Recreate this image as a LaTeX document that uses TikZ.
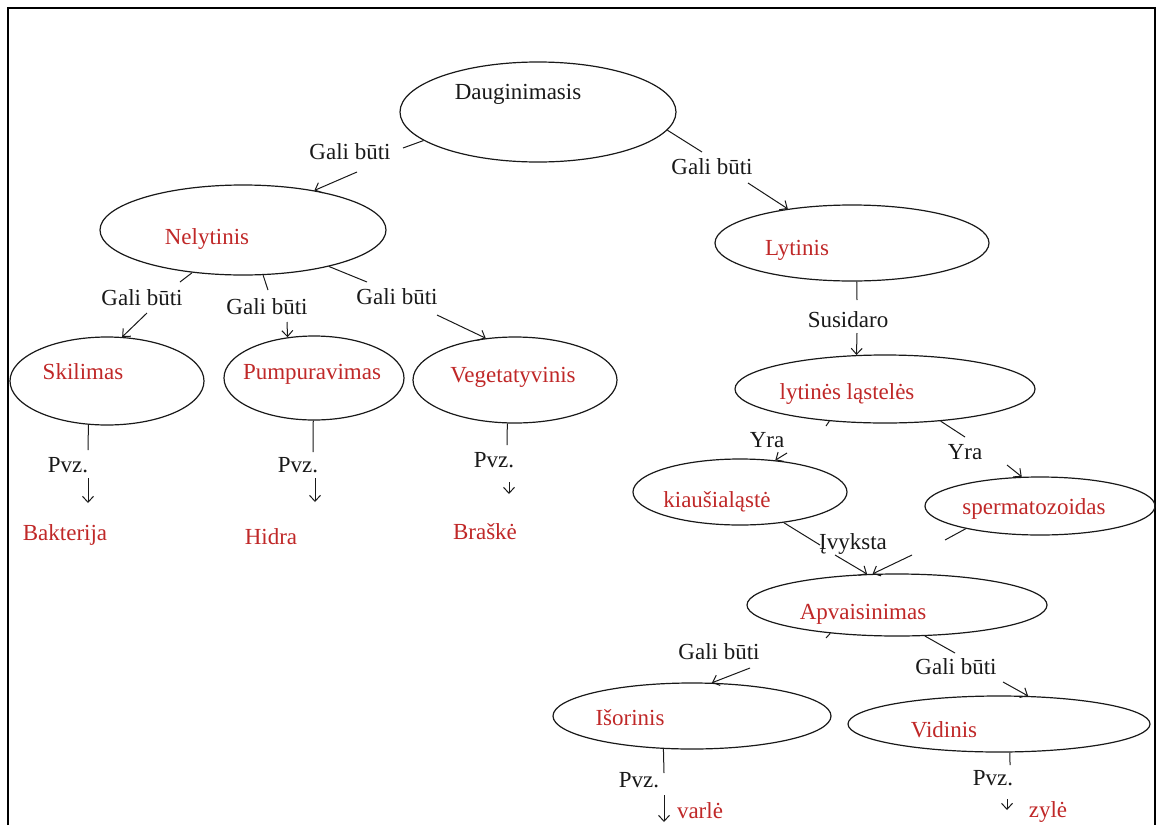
\documentclass[tikz,border=0pt]{standalone}
\usepackage{fontspec}
\setmainfont{Liberation Serif}
\usetikzlibrary{shapes.geometric,arrows.meta}
\definecolor{txtred}{RGB}{192,40,40}
\definecolor{ink}{RGB}{25,25,25}
\begin{document}
\begin{tikzpicture}[x=1pt,y=-1pt,
  oval/.style={draw=ink, ellipse, line width=1.2pt, inner sep=0pt},
  lbl/.style={text=ink, font=\fontsize{23}{27}\selectfont, inner sep=0pt, text height=16pt, text depth=1pt},
  nm/.style={lbl, text=txtred},
  conn/.style={draw=ink, line width=1pt},
  arr/.style={conn, -{Straight Barb[length=6pt,width=11pt]}}
]
\useasboundingbox (0,0) rectangle (1162,825);
\fill[white] (0,0) rectangle (1162,825);
% frame
\draw[line width=1.6pt] (8,825) -- (8,8) -- (1155,8) -- (1155,825);

% ellipses
\node[oval, minimum width=276pt, minimum height=100pt] (daug) at (538,112) {};
\node[oval, minimum width=286pt, minimum height=90pt] (nel) at (243,230) {};
\node[oval, minimum width=274pt, minimum height=76pt] (lyt) at (852,243) {};
\node[oval, minimum width=194pt, minimum height=88pt] (ski) at (107,381) {};
\node[oval, minimum width=180pt, minimum height=84pt] (pump) at (314,378) {};
\node[oval, minimum width=204pt, minimum height=86pt] (veg) at (515,380) {};
\node[oval, minimum width=300pt, minimum height=68pt] (lc) at (885,389) {};
\node[oval, minimum width=214pt, minimum height=66pt] (kiau) at (740,492) {};
\node[oval, minimum width=230pt, minimum height=58pt] (sperm) at (1040,506) {};
\node[oval, minimum width=300pt, minimum height=62pt] (apv) at (897,605) {};
\node[oval, minimum width=278pt, minimum height=66pt] (iso) at (692,716) {};
\node[oval, minimum width=302pt, minimum height=56pt] (vid) at (999,724) {};

% texts inside ellipses
\node[lbl] (daugT) at (518,92) {Dauginimasis};
\node[nm] (nelT) at (207,237) {Nelytinis};
\node[nm] (lytT) at (797,248) {Lytinis};
\node[nm] (skiT) at (83,372) {Skilimas};
\node[nm] (pumpT) at (312,372) {Pumpuravimas};
\node[nm] (vegT) at (513,375) {Vegetatyvinis};
\node[nm] (lcT) at (847,392) {lytinės ląstelės};
\node[nm] (kiauT) at (717,500) {kiaušialąstė};
\node[nm] (spermT) at (1034,507) {spermatozoidas};
\node[nm] (apvT) at (863,612) {Apvaisinimas};
\node[nm] (isoT) at (630,718) {Išorinis};
\node[nm] (vidT) at (944,730) {Vidinis};

% examples
\node[nm] (bak) at (65,533) {Bakterija};
\node[nm] (hid) at (271,537) {Hidra};
\node[nm] (bra) at (485,532) {Braškė};
\node[nm] (var) at (700,811) {varlė};
\node[nm] (zyl) at (1048,810) {zylė};

% connector labels
\node[lbl] (g1) at (350,152) {Gali būti};
\node[lbl] (g2) at (712,167) {Gali būti};
\node[lbl] (g3) at (142,298) {Gali būti};
\node[lbl] (g4) at (267,307) {Gali būti};
\node[lbl] (g5) at (397,297) {Gali būti};
\node[lbl] (sus) at (848,320) {Susidaro};
\node[lbl] (yra1) at (767,440) {Yra};
\node[lbl] (yra2) at (965,452) {Yra};
\node[lbl] (ivy) at (853,542) {Įvyksta};
\node[lbl] (g6) at (719,652) {Gali būti};
\node[lbl] (g7) at (956,667) {Gali būti};
\node[lbl] (pvz1) at (68,465) {Pvz.};
\node[lbl] (pvz2) at (298,465) {Pvz.};
\node[lbl] (pvz3) at (494,460) {Pvz.};
\node[lbl] (pvz4) at (639,780) {Pvz.};
\node[lbl] (pvz5) at (993,778) {Pvz.};

% free connector ends
\coordinate (e1) at (403,148);
\coordinate (a2) at (357,172);
\coordinate (e3) at (702,152);
\coordinate (a4) at (748,183);
\coordinate (e5) at (180,282);
\coordinate (a6) at (147,313);
\coordinate (e7) at (268,290);
\coordinate (a8) at (287,322);
\coordinate (e9) at (367,282);
\coordinate (a10) at (437,315);
\coordinate (p1e) at (88,450);
\coordinate (p1a) at (88,478);
\coordinate (p1b) at (88,503);
\coordinate (p2e) at (313,452);
\coordinate (p2a) at (315,478);
\coordinate (p2b) at (315,502);
\coordinate (p3e) at (507,445);
\coordinate (p3a) at (509,482);
\coordinate (p3b) at (509,494);
\coordinate (se) at (857,300);
\coordinate (sa) at (857,333);
\coordinate (y1e) at (826,426);
\coordinate (y1a) at (787,453);
\coordinate (y2e) at (965,437);
\coordinate (y2a) at (1007,465);
\coordinate (ie) at (820,545);
\coordinate (ia) at (835,555);
\coordinate (spe) at (945,540);
\coordinate (spa) at (912,555);
\coordinate (g6e) at (826,638);
\coordinate (g6a) at (750,668);
\coordinate (g7e) at (955,653);
\coordinate (g7a) at (1003,682);
\coordinate (p4e) at (664,773);
\coordinate (p4a) at (664,795);
\coordinate (p4b) at (664,822);
\coordinate (p5e) at (1010,765);
\coordinate (p5a) at (1007,799);
\coordinate (p5b) at (1007,810);

% connectors
\draw[conn] (daug.194) -- (e1);
\draw[arr] (a2) -- (nel.29);
\draw[conn] (daug.-8) -- (e3);
\draw[arr] (a4) -- (lyt.152);
\draw[conn] (nel.220) -- (e5);
\draw[arr] (a6) -- (ski.71);
\draw[conn] (nel.-66) -- (e7);
\draw[arr] (a8) -- (pump.123);
\draw[conn] (nel.-23) -- (e9);
\draw[arr] (a10) -- (veg.125);
\draw[conn] (ski.247) -- (p1e);
\draw[arr] (p1a) -- (p1b);
\draw[conn] (pump.-91) -- (p2e);
\draw[arr] (p2a) -- (p2b);
\draw[conn] (veg.260) -- (p3e);
\draw[arr] (p3a) -- (p3b);
\draw[conn] (lyt.-83) -- (se);
\draw[arr] (sa) -- (lc.130);
\draw[conn] (lc.210) -- (y1e);
\draw[arr] (y1a) -- (kiau.42);
\draw[conn] (lc.-30) -- (y2e);
\draw[arr] (y2a) -- (sperm.122);
\draw[conn] (kiau.-35) -- (ie);
\draw[arr] (ia) -- (apv.134);
\draw[conn] (sperm.197) -- (spe);
\draw[arr] (spa) -- (apv.128);
\draw[conn] (apv.203) -- (g6e);
\draw[arr] (g6a) -- (iso.59);
\draw[conn] (apv.-48) -- (g7e);
\draw[arr] (g7a) -- (vid.44);
\draw[conn] (iso.229) -- (p4e);
\draw[arr] (p4a) -- (p4b);
\draw[conn] (vid.-69) -- (p5e);
\draw[arr] (p5a) -- (p5b);
\end{tikzpicture}
\end{document}
